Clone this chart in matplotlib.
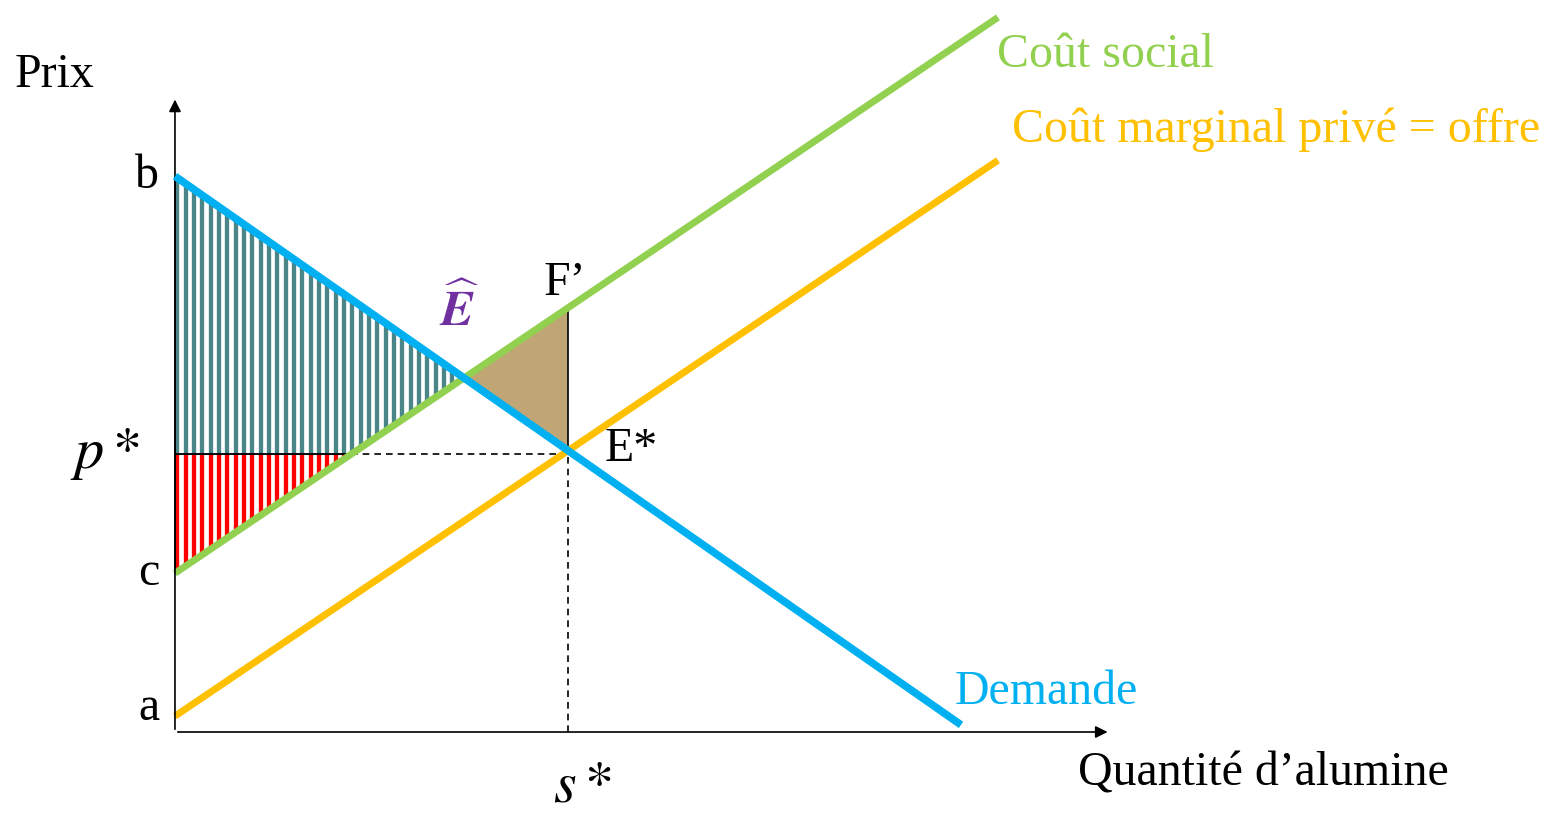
import numpy as np
import matplotlib.pyplot as plt
from matplotlib.patches import Polygon

# key values (price / quantity units)
b_price = 7.0
p_star = 3.5
c_price = 2.0
a_price = 0.2
s_star = 5.0

demand_q = [0.0, 10.0]
demand_p = [7.0, 0.09]
social_q = [0.0, 10.47]
social_p = [2.0, 9.0]
private_q = [0.0, 10.47]
private_p = [0.2, 7.2]

e_hat = (3.65, 4.445)
f_prime = (5.0, 5.35)
e_star = (5.0, 3.5)
cut_q = 2.24  # social cost meets p*

teal_area = [(0.0, b_price), e_hat, (cut_q, p_star), (0.0, p_star)]
red_area = [(0.0, p_star), (cut_q, p_star), (0.0, c_price)]
brown_area = [e_hat, f_prime, e_star]

plt.rcParams['font.family'] = ['Liberation Serif', 'DejaVu Serif']
plt.rcParams['mathtext.fontset'] = 'stix'

fig = plt.figure(figsize=(15.47, 8.13), dpi=100)
ax = fig.add_axes([0, 0, 1, 1])
ax.set_xlim(-2.226, 17.455)
ax.set_ylim(-1.02, 9.219)
ax.axis('off')

green = '#92d050'
orange = '#ffc000'
blue = '#00b0f0'


def striped(points, color):
    # vertical stripes clipped to the polygon
    poly = Polygon(points, closed=True, facecolor='white', edgecolor='none', zorder=1)
    ax.add_patch(poly)
    xs = np.arange(0.03, max(p[0] for p in points), 0.106)
    ys = [p[1] for p in points]
    lines = ax.vlines(xs, min(ys), max(ys), colors=color, linewidth=3.1, zorder=1)
    lines.set_clip_path(poly)
    ax.add_patch(Polygon(points, closed=True, fill=False, edgecolor='black',
                         linewidth=1.2, zorder=2))


striped(teal_area, '#4a8587')
striped(red_area, '#ff0000')
ax.add_patch(Polygon(brown_area, closed=True, facecolor='#c0a674', edgecolor='none', zorder=1))

# guide lines
ax.plot([cut_q, s_star], [p_star, p_star], color='black', lw=1.2, ls=(0, (4, 3)), zorder=2)
ax.plot([s_star, s_star], [0, p_star], color='black', lw=1.2, ls=(0, (4, 3)), zorder=2)
ax.plot([f_prime[0], e_star[0]], [f_prime[1], e_star[1]], color='black', lw=1.2, zorder=2)

# curves
ax.plot(social_q, social_p, color=green, lw=5, solid_capstyle='butt', zorder=3)
ax.plot(private_q, private_p, color=orange, lw=5, solid_capstyle='butt', zorder=3)
ax.plot(demand_q, demand_p, color=blue, lw=5.5, solid_capstyle='butt', zorder=4)

# axes with arrows
ax.annotate('', xy=(0, 8.0), xytext=(0, 0),
            arrowprops=dict(arrowstyle='-|>', color='black', lw=1.2, mutation_scale=18))
ax.annotate('', xy=(11.9, 0), xytext=(0, 0),
            arrowprops=dict(arrowstyle='-|>', color='black', lw=1.2, mutation_scale=18))

fs = 34.5
ax.text(-1.53, 8.27, 'Prix', fontsize=fs, ha='center', va='center')
ax.text(-0.2, b_price, 'b', fontsize=fs, ha='right', va='center')
ax.text(-0.2, c_price, 'c', fontsize=fs, ha='right', va='center')
ax.text(-0.2, 0.3, 'a', fontsize=fs, ha='right', va='center')
ax.text(-0.89, p_star, r'$p*$', fontsize=42, ha='center', va='center')
ax.text(5.18, -0.70, r'$s*$', fontsize=42, ha='center', va='center')
ax.text(4.96, 5.66, 'F\u2019', fontsize=fs, ha='center', va='center')
ax.text(5.8, 3.57, 'E*', fontsize=fs, ha='center', va='center')
ax.text(3.62, 5.3, r'$\widehat{\mathbfit{E}}$', fontsize=36, color='#7030a0',
        ha='center', va='center')
ax.text(10.46, 8.53, 'Coût social', fontsize=fs, color=green, ha='left', va='center')
ax.text(10.65, 7.58, 'Coût marginal privé = offre', fontsize=fs, color=orange,
        ha='left', va='center')
ax.text(9.92, 0.5, 'Demande', fontsize=fs, color=blue, ha='left', va='center')
ax.text(11.49, -0.52, 'Quantité d\u2019alumine', fontsize=fs, ha='left', va='center')

fig.savefig('out.png', dpi=100)
